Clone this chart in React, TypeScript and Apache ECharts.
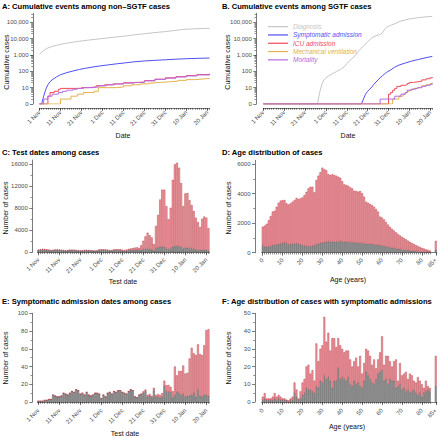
import React, { useEffect, useRef } from "react";
import * as echarts from "echarts";

// ---------------- categories ----------------
const MONTHS = ["Jan", "Feb", "Mar", "Apr", "May", "Jun", "Jul", "Aug", "Sep", "Oct", "Nov", "Dec"];
const START_DAY = Date.UTC(2020, 10, 1);
const N_DAYS = 82; // 1 Nov 2020 .. 21 Jan 2021
const dateLabels: string[] = Array.from({ length: N_DAYS }, (_, i) => {
  const d = new Date(START_DAY + i * 86400000);
  return `${d.getUTCDate()} ${MONTHS[d.getUTCMonth()]}`;
});
const ageLabels: string[] = [...Array.from({ length: 85 }, (_, i) => String(i)), " ", "  ", "85+"];
const ageTickLabels = ["0", "10", "20", "30", "40", "50", "60", "70", "80", "85+"];

// ---------------- tick labels ----------------
const logTicks = [1, 10, 100, 1000, 10000, 100000];
const testTicks = [0, 4000, 8000, 12000, 16000];
const ageCaseTicks = [0, 2000, 4000, 6000];
const admTicks = [0, 20, 40, 60, 80, 100];
const ageAdmTicks = [0, 10, 20, 30, 40, 50];

// ---------------- series names / colours ----------------
const eventNames = ["Diagnosis", "Symptomatic admission", "ICU admission", "Mechanical ventilation", "Mortality"];
const eventColors = ["#c6c6c6", "#4f4ff2", "#f04a55", "#e3b24c", "#b46be3"];

// ---------------- A: cumulative events, non-SGTF  [day index, count] ----------------
const nonDiagnosis = [[0, 1100], [2, 1900], [4, 2700], [6, 3300], [9, 4200], [13, 5300], [17, 6400], [21, 7500], [25, 8600], [29, 9800], [35, 12000], [41, 14500], [45, 17000], [50, 20000], [55, 23500], [60, 27000], [64, 31000], [68, 36000], [72, 39000], [76, 41000], [81, 43000]];
const nonSymptomatic = [[0, 0], [1, 1], [2, 3], [3, 8], [4, 15], [5, 23], [6, 30], [8, 45], [10, 62], [13, 83], [16, 105], [19, 130], [22, 155], [25, 180], [29, 215], [33, 250], [37, 290], [41, 330], [45, 380], [50, 430], [55, 470], [60, 510], [65, 550], [70, 590], [75, 620], [81, 650]];
const nonIcu = [[0, 0], [3, 1], [4, 3], [5, 5], [7, 6], [9, 8], [10, 9], [20, 10], [23, 11], [27, 13], [31, 15], [35, 17], [40, 20], [45, 22], [50, 27], [55, 33], [60, 40], [65, 47], [70, 55], [75, 63], [81, 72]];
const nonVentilation = [[0, 0], [9, 1], [10, 2], [15, 3], [18, 4], [21, 5], [26, 6], [28, 10], [37, 11], [40, 13], [44, 15], [48, 17], [52, 19], [55, 21], [58, 23], [62, 25], [66, 28], [70, 31], [74, 34], [78, 37], [81, 40]];
const nonMortality = [[0, 0], [1, 1], [2, 2], [4, 3], [6, 4], [9, 5], [11, 6], [13, 7], [16, 8], [18, 9], [21, 10], [25, 11], [28, 13], [32, 15], [36, 17], [40, 19], [45, 21], [50, 26], [55, 32], [60, 38], [65, 45], [70, 52], [75, 60], [81, 68]];

// ---------------- B: cumulative events, SGTF ----------------
const sgtfDiagnosis = [[0, 0], [26, 0], [27, 5], [28, 15], [29, 30], [31, 50], [33, 70], [35, 95], [37, 130], [39, 200], [40, 300], [42, 520], [44, 900], [46, 1900], [48, 3500], [50, 6500], [52, 11000], [54, 15000], [56, 18000], [57, 22000], [58, 35000], [59, 50000], [61, 65000], [63, 81000], [66, 120000], [68, 140000], [70, 160000], [72, 175000], [74, 190000], [77, 210000], [81, 230000]];
const sgtfSymptomatic = [[0, 0], [46, 0], [47, 1], [48, 2], [49, 4], [50, 6], [51, 8], [52, 11], [53, 16], [54, 22], [55, 30], [56, 40], [57, 52], [58, 68], [59, 85], [61, 120], [63, 180], [65, 240], [68, 320], [71, 420], [74, 520], [77, 640], [81, 820]];
const sgtfIcu = [[0, 0], [59, 0], [60, 4], [61, 5], [62, 7], [63, 9], [64, 12], [66, 14], [68, 15], [69, 18], [70, 21], [72, 23], [74, 25], [76, 30], [78, 35], [80, 40], [81, 45]];
const sgtfVentilation = [[0, 0], [61, 0], [62, 2], [65, 3], [67, 4], [68, 5], [69, 6], [70, 7], [71, 8], [72, 9], [74, 10], [76, 13], [78, 15], [80, 18], [81, 20]];
const sgtfMortality = [[0, 0], [55, 0], [56, 2], [62, 2], [63, 3], [66, 4], [68, 5], [69, 7], [71, 8], [73, 9], [74, 10], [76, 12], [78, 14], [80, 16], [81, 18]];

// ---------------- C: cases by test date ----------------
const testTotal = [
  450, 560, 610, 590, 530, 480, 380, 420, 510, 520,
  490, 450, 400, 330, 380, 460, 470, 450, 420, 380,
  310, 350, 420, 430, 400, 390, 350, 300, 380, 500,
  560, 540, 520, 470, 380, 420, 520, 560, 540, 530,
  470, 400, 480, 620, 700, 760, 850, 900, 800, 1300,
  2100, 2900, 3560, 3100, 2700, 1500, 4800, 6800, 9600, 11400,
  11400, 8400, 6000, 8100, 13200, 16000, 16300, 15400, 12600, 8400,
  10700, 10800, 9500, 8600, 7500, 6300, 5500, 4600, 6100, 6500, 6300, 4400,
];
const testNonSgtf = [
  380, 460, 500, 480, 430, 390, 310, 350, 420, 430,
  400, 370, 330, 270, 310, 380, 380, 360, 340, 300,
  250, 280, 330, 340, 310, 300, 270, 230, 290, 380,
  420, 400, 380, 340, 270, 300, 370, 390, 370, 360,
  310, 260, 310, 390, 420, 430, 450, 440, 380, 450,
  560, 620, 680, 600, 500, 330, 750, 850, 1000, 1050,
  1000, 700, 560, 700, 1000, 1150, 1150, 1100, 950, 650,
  850, 850, 750, 700, 600, 500, 430, 380, 450, 480, 450, 320,
];

// ---------------- D: cases by age (0..84, 85+) ----------------
const ageTotal = [
  1760, 1830, 1950, 2200, 2480, 2780, 2840, 3110, 3380, 3520,
  3560, 3560, 3340, 3260, 3340, 3450, 3560, 3710, 3630, 3670,
  3740, 3900, 4120, 4350, 4460, 4460, 4080, 4920, 5210, 5440,
  5750, 5640, 5590, 5320, 5260, 5300, 5260, 5210, 5140, 5070,
  4840, 4620, 4580, 4530, 4420, 4350, 4190, 4170, 4130, 4170,
  4020, 3790, 3450, 3380, 3290, 3220, 3110, 2960, 2780, 2440,
  2380, 2250, 2080, 1900, 1750, 1620, 1500, 1380, 1270, 1170,
  1080, 990, 900, 820, 740, 660, 590, 520, 450, 390,
  330, 280, 230, 190, 150,
  800,
];
const ageNonSgtf = [
  500, 420, 400, 420, 450, 500, 520, 560, 600, 620,
  650, 700, 650, 560, 580, 600, 620, 630, 600, 560,
  520, 480, 440, 430, 450, 480, 500, 560, 600, 640,
  680, 720, 740, 760, 750, 760, 740, 750, 760, 770,
  760, 740, 720, 730, 700, 700, 690, 680, 660, 650,
  640, 620, 600, 590, 580, 570, 560, 540, 520, 500,
  480, 450, 420, 390, 360, 330, 300, 280, 260, 240,
  220, 200, 180, 160, 140, 130, 110, 100, 85, 70,
  60, 50, 40, 35, 25,
  200,
];

// ---------------- E: symptomatic admissions by test date ----------------
const admTotal = [
  1, 1, 1, 2, 2, 3, 3, 8, 7, 6,
  6, 7, 10, 9, 8, 10, 12, 11, 14, 13,
  9, 10, 8, 11, 8, 7, 8, 10, 10, 9,
  4, 8, 6, 10, 11, 9, 12, 11, 13, 13,
  11, 10, 9, 12, 14, 13, 6, 5, 8, 9,
  12, 14, 8, 9, 7, 16, 8, 9, 8, 10,
  24, 19, 19, 17, 12, 40, 30, 35, 35, 41,
  32, 33, 49, 61, 55, 53, 65, 54, 53, 64, 81, 82,
];
const admNonSgtf = [
  1, 1, 1, 2, 2, 3, 3, 8, 7, 6,
  6, 7, 10, 9, 8, 10, 12, 11, 14, 13,
  9, 10, 8, 11, 8, 7, 8, 10, 10, 9,
  4, 8, 6, 10, 11, 9, 12, 11, 13, 13,
  11, 10, 9, 12, 14, 13, 6, 5, 8, 9,
  10, 12, 6, 7, 5, 13, 6, 6, 5, 6,
  18, 12, 11, 11, 5, 8, 11, 10, 8, 9,
  6, 7, 7, 8, 10, 6, 14, 7, 6, 8, 8, 7,
];

// ---------------- F: symptomatic admissions by age ----------------
const ageAdmTotal = [
  3, 5, 2, 2, 2, 3, 5, 3, 4, 3,
  2, 2, 1, 1, 2, 3, 11, 7, 2, 6,
  11, 13, 20, 21, 16, 18, 12, 33, 23, 30,
  32, 48, 34, 39, 29, 36, 36, 31, 36, 32,
  30, 28, 29, 29, 24, 20, 23, 25, 20, 26,
  16, 22, 30, 29, 26, 21, 24, 19, 24, 28,
  37, 21, 26, 26, 23, 20, 23, 24, 12, 22,
  15, 16, 17, 13, 16, 15, 12, 11, 14, 12,
  10, 8, 12, 9, 8,
  26,
];
const ageAdmNonSgtf = [
  1, 2, 1, 1, 1, 1, 2, 1, 2, 1,
  1, 1, 1, 0, 1, 1, 5, 3, 1, 2,
  4, 5, 8, 7, 7, 6, 5, 9, 8, 12,
  11, 15, 13, 14, 12, 8, 12, 12, 19, 13,
  14, 13, 12, 14, 10, 9, 12, 10, 11, 9,
  8, 12, 17, 15, 13, 11, 10, 13, 16, 17,
  18, 12, 13, 10, 13, 12, 12, 8, 9, 10,
  7, 8, 6, 7, 5, 6, 7, 5, 4, 5,
  3, 5, 6, 7, 6,
  9,
];

// ---------------- styling ----------------
const FONT = "Liberation Sans";
const AXIS_COLOR = "#222222";
const LABEL_COLOR = "#4d4d4d";
const PINK = "#f2a3a9";
const PINK_EDGE = "#b3303b";
const GREY = "#9c9c9c";
const GREY_EDGE = "#444444";

const GRIDS = [
  { left: 39.5, right: 230.5, top: 13.3, bottom: 333 },
  { left: 263.3, right: 7.7, top: 13.3, bottom: 333 },
  { left: 37.3, right: 230.5, top: 160, bottom: 184.7 },
  { left: 261.7, right: 3, top: 160.3, bottom: 184.3 },
  { left: 37.3, right: 230.5, top: 313.3, bottom: 35 },
  { left: 261.7, right: 3, top: 313.3, bottom: 35 },
];

const LOG_MAX = Math.pow(10, 5.55);
const logMinor: number[] = [];
for (let p = 1; p <= 100000; p *= 10) for (let k = 2; k <= 9; k++) if (p * k <= LOG_MAX) logMinor.push(p * k);

function midpoints(ticks: number[], max: number): number[] {
  const step = ticks[1] - ticks[0];
  const out: number[] = [];
  for (let v = ticks[0] + step / 2; v <= max; v += step) out.push(v);
  return out;
}

function dateXAxes(gridIndex: number, boundaryGap: boolean, offset: number) {
  const base = { type: "category", gridIndex, data: dateLabels, boundaryGap, position: "bottom", offset };
  return [
    {
      ...base,
      axisLine: { show: true, lineStyle: { color: AXIS_COLOR, width: 0.6 } },
      axisTick: { show: true, interval: 9, alignWithLabel: true, length: 3, lineStyle: { color: AXIS_COLOR, width: 0.6 } },
      axisLabel: { interval: 9, rotate: 45, fontSize: 6, color: LABEL_COLOR, margin: 3.5, fontFamily: FONT },
      splitLine: { show: false },
    },
    {
      ...base,
      axisLine: { show: false },
      axisTick: { show: true, interval: 0, alignWithLabel: true, length: 1.8, lineStyle: { color: AXIS_COLOR, width: 0.5 } },
      axisLabel: { show: false },
      splitLine: { show: false },
    },
  ];
}

function ageXAxes(gridIndex: number, offset: number) {
  const base = { type: "category", gridIndex, data: ageLabels, boundaryGap: true, position: "bottom", offset };
  const shown = (_i: number, v: string) => ageTickLabels.indexOf(v) >= 0;
  return [
    {
      ...base,
      axisLine: { show: true, lineStyle: { color: AXIS_COLOR, width: 0.6 } },
      axisTick: { show: true, interval: shown, alignWithLabel: true, length: 3, lineStyle: { color: AXIS_COLOR, width: 0.6 } },
      axisLabel: { interval: shown, rotate: 45, fontSize: 6, color: LABEL_COLOR, margin: 3.5, fontFamily: FONT },
      splitLine: { show: false },
    },
    {
      ...base,
      axisLine: { show: false },
      axisTick: { show: true, interval: (_i: number, v: string) => v.trim() !== "", alignWithLabel: true, length: 1.8, lineStyle: { color: AXIS_COLOR, width: 0.5 } },
      axisLabel: { show: false },
      splitLine: { show: false },
    },
  ];
}

function yAxes(gridIndex: number, type: string, min: number, max: number, ticks: number[], minors: number[], offset: number, fmt: (v: number) => string) {
  const base: any = { type, gridIndex, min, max, position: "left", offset, splitLine: { show: false } };
  if (type === "log") base.logBase = 10;
  return [
    {
      ...base,
      axisLine: { show: true, lineStyle: { color: AXIS_COLOR, width: 0.6 } },
      axisTick: { show: true, length: 3, customValues: ticks, lineStyle: { color: AXIS_COLOR, width: 0.6 } },
      axisLabel: { customValues: ticks, fontSize: 6, color: LABEL_COLOR, margin: 4.5, fontFamily: FONT, formatter: fmt },
    },
    {
      ...base,
      axisLine: { show: false },
      axisTick: { show: true, length: 1.8, customValues: minors, lineStyle: { color: AXIS_COLOR, width: 0.5 } },
      axisLabel: { show: false },
    },
  ];
}

const logFmt = (v: number) => {
  const r = Math.round(v);
  return r === 1 ? "0" : r.toLocaleString("en-US");
};
const plainFmt = (v: number) => String(Math.round(v));

function padAge(arr: (number | string)[]) {
  return [...arr.slice(0, 85), "-", "-", arr[85]];
}

function lineSeries(panel: number, sets: number[][][]) {
  return sets.map((pts, i) => ({
    type: "line",
    name: eventNames[i],
    xAxisIndex: panel * 2,
    yAxisIndex: panel * 2,
    data: pts.map(([d, v]) => [d, Math.max(v, 1)]),
    showSymbol: false,
    symbol: "none",
    step: i >= 2 ? "end" : false,
    lineStyle: { width: 1, color: eventColors[i] },
    itemStyle: { color: eventColors[i] },
    z: 2 + i,
  }));
}

function barSeries(panel: number, nonSgtf: (number | string)[], total: (number | string)[]) {
  const sgtf = total.map((t, i) => (typeof t === "number" ? t - (nonSgtf[i] as number) : t));
  return [
    {
      type: "bar",
      name: `non-SGTF ${panel}`,
      xAxisIndex: panel * 2,
      yAxisIndex: panel * 2,
      stack: `s${panel}`,
      data: nonSgtf,
      barCategoryGap: "10%",
      itemStyle: { color: GREY, borderColor: GREY_EDGE, borderWidth: 0.45 },
    },
    {
      type: "bar",
      name: `SGTF ${panel}`,
      xAxisIndex: panel * 2,
      yAxisIndex: panel * 2,
      stack: `s${panel}`,
      data: sgtf,
      barCategoryGap: "10%",
      itemStyle: { color: PINK, borderColor: PINK_EDGE, borderWidth: 0.45 },
    },
  ];
}

function titleText(x: number, y: number, text: string) {
  return { type: "text", x, y, style: { text, fill: "#000", fontSize: 7.6, fontWeight: "bold", fontFamily: FONT, align: "left", verticalAlign: "middle" } };
}
function axisTitle(x: number, y: number, text: string, vertical = false) {
  return {
    type: "text",
    x,
    y,
    rotation: vertical ? Math.PI / 2 : 0,
    style: { text, fill: "#111", fontSize: 7, fontFamily: FONT, align: "center", verticalAlign: "middle" },
  };
}

export default function App() {
  const ref = useRef<HTMLDivElement>(null);
  useEffect(() => {
    if (!ref.current) return;
    const chart = echarts.init(ref.current, undefined, { renderer: "svg" });
    const option: any = {
      animation: false,
      backgroundColor: "#ffffff",
      textStyle: { fontFamily: FONT },
      grid: GRIDS,
      xAxis: [
        ...dateXAxes(0, false, 4),
        ...dateXAxes(1, false, 4),
        ...dateXAxes(2, true, 3),
        ...ageXAxes(3, 3),
        ...dateXAxes(4, true, 4),
        ...ageXAxes(5, 4),
      ],
      yAxis: [
        ...yAxes(0, "log", 1, LOG_MAX, logTicks, logMinor, 6.5, logFmt),
        ...yAxes(1, "log", 1, LOG_MAX, logTicks, logMinor, 7, logFmt),
        ...yAxes(2, "value", 0, 16800, testTicks, midpoints(testTicks, 16800), 5, plainFmt),
        ...yAxes(3, "value", 0, 6250, ageCaseTicks, midpoints(ageCaseTicks, 6250), 6.7, plainFmt),
        ...yAxes(4, "value", 0, 100, admTicks, midpoints(admTicks, 100), 5, plainFmt),
        ...yAxes(5, "value", 0, 50, ageAdmTicks, midpoints(ageAdmTicks, 50), 6.7, plainFmt),
      ],
      legend: {
        show: true,
        orient: "vertical",
        left: 263,
        top: 18,
        icon: "rect",
        itemWidth: 20,
        itemHeight: 1.2,
        itemGap: 1.0,
        selectedMode: false,
        data: eventNames.map((n, i) => ({ name: n, textStyle: { color: eventColors[i] } })),
        textStyle: { fontSize: 6.5, fontStyle: "italic", fontFamily: FONT, lineHeight: 7.3 },
      },
      series: [
        ...lineSeries(0, [nonDiagnosis, nonSymptomatic, nonIcu, nonVentilation, nonMortality]),
        ...lineSeries(1, [sgtfDiagnosis, sgtfSymptomatic, sgtfIcu, sgtfVentilation, sgtfMortality]),
        ...barSeries(2, testNonSgtf, testTotal),
        ...barSeries(3, padAge(ageNonSgtf), padAge(ageTotal)),
        ...barSeries(4, admNonSgtf, admTotal),
        ...barSeries(5, padAge(ageAdmNonSgtf), padAge(ageAdmTotal)),
      ],
      graphic: [
        titleText(2, 6.5, "A: Cumulative events among non\u2013SGTF cases"),
        titleText(222, 6.5, "B. Cumulative events among SGTF cases"),
        titleText(2, 152, "C: Test dates among cases"),
        titleText(222, 152, "D: Age distribution of cases"),
        titleText(2, 301.5, "E: Symptomatic admission dates among cases"),
        titleText(222, 301.5, "F: Age distribution of cases with symptomatic admissions"),
        axisTitle(123, 135, "Date"),
        axisTitle(348, 135, "Date"),
        axisTitle(123, 281.5, "Test date"),
        axisTitle(348, 279.5, "Age (years)"),
        axisTitle(125, 433, "Test date"),
        axisTitle(347, 426.5, "Age (years)"),
        axisTitle(6, 62, "Cumulative cases", true),
        axisTitle(227, 62, "Cumulative cases", true),
        axisTitle(5, 208, "Number of cases", true),
        axisTitle(228, 208, "Number of cases", true),
        axisTitle(5, 358, "Number of cases", true),
        axisTitle(228.5, 358, "Number of cases", true),
      ],
    };
    chart.setOption(option);
    return () => chart.dispose();
  }, []);
  return <div ref={ref} style={{ width: 440, height: 437, position: "absolute", left: 0, top: 0 }} />;
}
